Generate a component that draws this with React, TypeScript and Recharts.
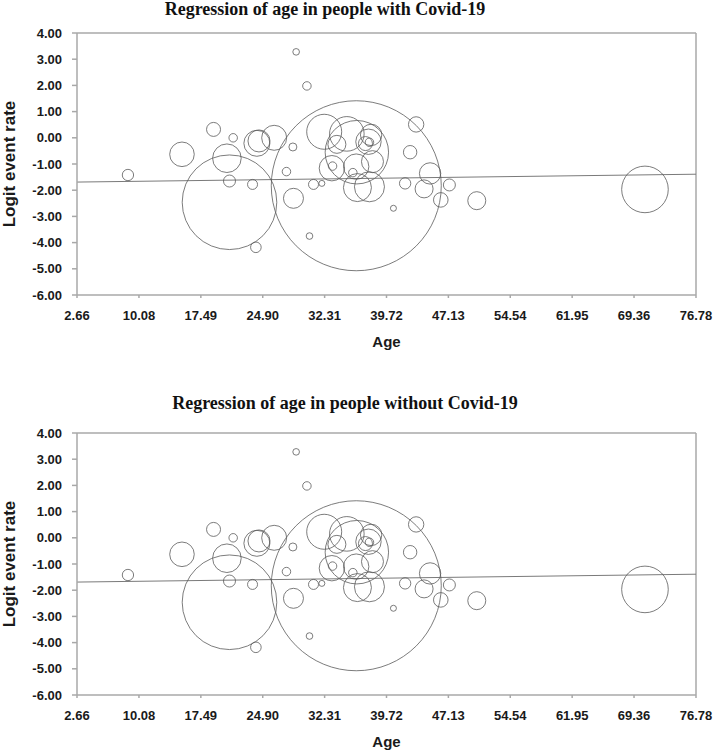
import React from 'react'
import {
   ScatterChart,
   Scatter,
   XAxis,
   YAxis,
   ZAxis,
   ReferenceLine,
} from 'recharts'

// study-level points
const ages = [
   8.76, 15.23, 19.01, 21.36, 20.61, 20.92, 20.92, 23.68, 24.08, 24.2, 24.45, 26.27,
   28.51, 27.74, 28.58, 28.9, 30.19, 30.5, 36.1, 32.26, 34.97, 33.78, 36.17, 33.18,
   33.26, 36.09, 35.69, 38.04, 37.88, 37.56, 37.68, 37.2, 36.24, 37.68, 40.55, 41.95,
   42.55, 43.27, 44.94, 44.22, 47.25, 46.22, 50.53, 70.67, 30.98, 31.98,
]
const logits = [
   -1.42, -0.63, 0.32, 0.0, -0.78, -2.46, -1.65, -1.78, -4.18, -0.21, -0.12, 0.0,
   -0.35, -1.29, -2.31, 3.28, 1.98, -3.75, -1.83, 0.23, 0.15, -0.25, -0.55, -1.16,
   -1.08, -1.1, -1.33, -0.91, 0.11, -0.15, -0.17, -0.22, -1.9, -1.87, -2.69, -1.74,
   -0.55, 0.51, -1.36, -1.95, -1.8, -2.37, -2.4, -1.97, -1.78, -1.74,
]
const weights = [
   3.2, 15.1, 4.9, 1.8, 20.4, 223.7, 3.6, 2.5, 2.8, 16.9, 12.1, 15.6,
   1.6, 1.8, 10.0, 1.1, 1.8, 1.1, 722.5, 30.6, 29.9, 8.1, 100.5, 16.1,
   1.8, 16.1, 1.8, 12.1, 11.4, 16.1, 1.8, 4.9, 19.6, 22.5, 0.9, 3.2,
   4.5, 5.9, 11.4, 8.1, 3.6, 5.3, 8.1, 54.3, 2.5, 0.9,
]

const ageTicks = [2.66, 10.08, 17.49, 24.9, 32.31, 39.72, 47.13, 54.54, 61.95, 69.36, 76.78]
const logitTicks = [4, 3, 2, 1, 0, -1, -2, -3, -4, -5, -6]

// fitted regression line, ends at the axis limits
const regressionLine = [
   { x: 2.66, y: -1.69 },
   { x: 76.78, y: -1.39 },
]

const studies = ages.map((age, i) => ({ age, logit: logits[i], weight: weights[i] }))

const maxWeight = Math.max(...weights)

const tickStyle = {
   fontFamily: '"Liberation Sans", Arial, sans-serif',
   fontWeight: 'bold',
   fontSize: 13,
   fill: '#1a1a1a',
}
const axisColor = '#a8a8a8'

type PanelProps = {
   title: string
   titleCenter: number
   titleTop: number
   top: number
}

const Panel = ({ title, titleCenter, titleTop, top }: PanelProps) => (
   <div style={{ position: 'absolute', left: 0, top, width: 714, height: 380 }}>
      <div
         style={{
            position: 'absolute',
            left: 0,
            top: titleTop,
            width: titleCenter * 2,
            textAlign: 'center',
            fontFamily: '"Liberation Serif", "Times New Roman", serif',
            fontWeight: 'bold',
            fontSize: 18,
            lineHeight: '18px',
            color: '#111',
         }}
      >
         {title}
      </div>
      <ScatterChart
         width={714}
         height={380}
         margin={{ top: 33, right: 18, bottom: 29, left: 0 }}
      >
         <XAxis
            type="number"
            dataKey="age"
            domain={[2.66, 76.78]}
            ticks={ageTicks}
            tickFormatter={(v: number) => v.toFixed(2)}
            interval={0}
            allowDataOverflow
            height={56}
            tickSize={3}
            tickMargin={13}
            tick={tickStyle}
            stroke={axisColor}
            strokeWidth={1.5}
            label={{
               value: 'Age',
               position: 'insideBottom',
               offset: 4,
               style: { ...tickStyle, fontSize: 15 },
            }}
         />
         <YAxis
            type="number"
            dataKey="logit"
            domain={[-6, 4]}
            ticks={logitTicks}
            tickFormatter={(v: number) => v.toFixed(2)}
            interval={0}
            allowDataOverflow
            width={77}
            tickSize={5}
            tickMargin={10}
            tick={tickStyle}
            stroke={axisColor}
            strokeWidth={1.5}
            label={{
               value: 'Logit event rate',
               angle: -90,
               position: 'insideLeft',
               offset: 9,
               style: { ...tickStyle, fontSize: 17, textAnchor: 'middle' },
            }}
         />
         <ZAxis type="number" dataKey="weight" domain={[0, maxWeight]} range={[0, Math.PI * 10 * maxWeight]} />
         <ReferenceLine y={4} stroke={axisColor} strokeWidth={1.5} />
         <ReferenceLine x={76.78} stroke={axisColor} strokeWidth={1.5} />
         <ReferenceLine segment={regressionLine} stroke="#7a7a7a" strokeWidth={1} />
         <Scatter
            data={studies}
            fill="none"
            stroke="#5a5a5a"
            strokeWidth={0.8}
            isAnimationActive={false}
         />
      </ScatterChart>
   </div>
)

export default function App() {
   return (
      <div
         style={{
            position: 'absolute',
            left: 0,
            top: 0,
            width: 714,
            height: 752,
            background: '#fff',
            overflow: 'hidden',
         }}
      >
         <Panel
            title="Regression of age in people with Covid-19"
            titleCenter={325}
            titleTop={0}
            top={0}
         />
         <Panel
            title="Regression of age in people without Covid-19"
            titleCenter={345}
            titleTop={-6}
            top={400}
         />
      </div>
   )
}
